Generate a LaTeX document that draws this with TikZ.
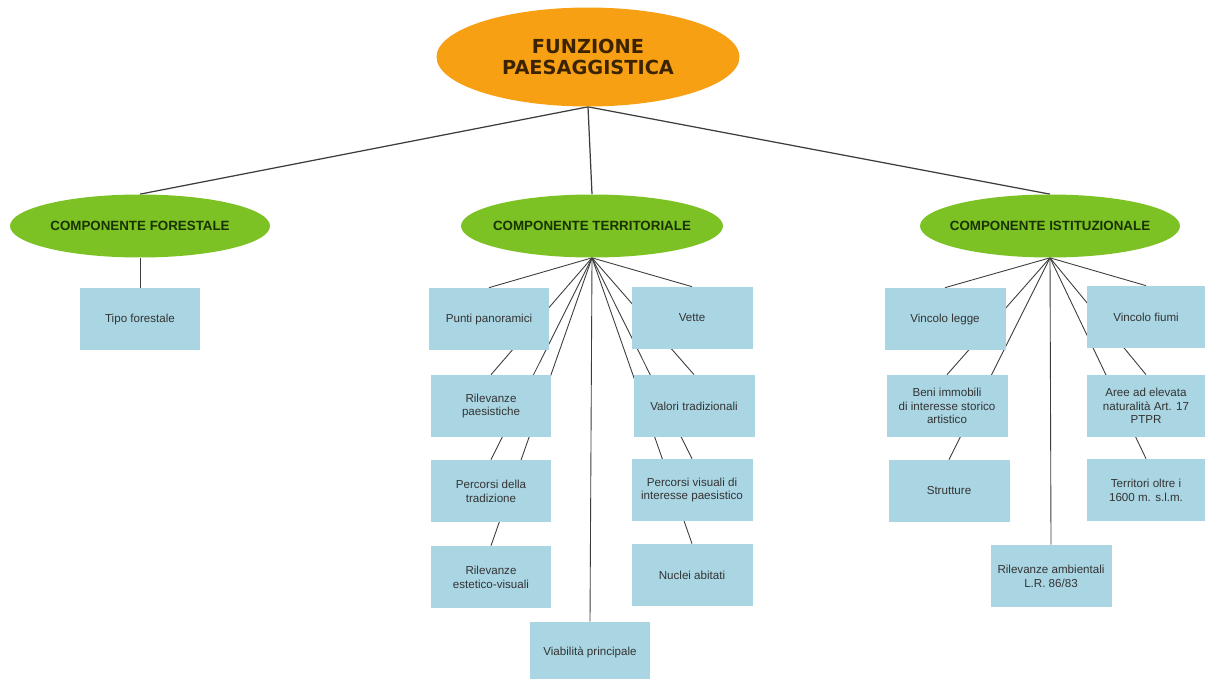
\documentclass[tikz,border=0pt]{standalone}
\usepackage{fontspec}
\setmainfont{Liberation Sans}
\newfontfamily\titlefont{DejaVu Sans}
\usetikzlibrary{shapes.geometric}
\definecolor{boxblue}{RGB}{170,214,228}
\definecolor{leafgreen}{RGB}{124,194,36}
\definecolor{titleorange}{RGB}{247,160,20}
\definecolor{linegray}{RGB}{60,60,60}
\definecolor{compText}{RGB}{25,50,0}
\definecolor{titleText}{RGB}{60,35,0}
\pgfdeclarelayer{back}
\pgfdeclarelayer{bg}
\pgfsetlayers{back,bg,main}
\newcommand{\ztext}[1]{\makebox[0pt][c]{#1}}
\tikzset{
  leafbox/.style={rectangle, fill=boxblue, minimum width=2.42cm, minimum height=1.24cm, inner sep=1pt, align=center, font=\fontsize{6.6}{7.8}\selectfont, text=black!80},
  compell/.style={ellipse, fill=leafgreen, minimum width=5.2cm, minimum height=1.26cm, inner sep=0pt, font=\bfseries\fontsize{7.6}{9}\selectfont, text=compText},
  titleell/.style={ellipse, fill=titleorange, minimum width=6.06cm, minimum height=1.98cm, inner sep=0pt, align=center, font=\titlefont\bfseries\fontsize{11}{12}\selectfont, text=titleText},
  link/.style={draw=linegray, line width=0.5pt},
  toplink/.style={draw=linegray, line width=0.7pt}
}
\begin{document}
\begin{tikzpicture}[x=0.02cm,y=-0.02cm]
\useasboundingbox (0,0) rectangle (1206,679);
\begin{pgfonlayer}{back}
\fill[white] (0,0) rectangle (1206,679);
\end{pgfonlayer}
% title
\node[titleell] (title) at (588,57) {FUNZIONE\\PAESAGGISTICA};
% components
\node[compell] (forest) at (140,226) {\ztext{COMPONENTE FORESTALE}};
\node[compell, minimum width=5.24cm] (terr) at (592,226) {\ztext{COMPONENTE TERRITORIALE}};
\node[compell] (ist) at (1050,226) {\ztext{COMPONENTE ISTITUZIONALE}};
% forestale
\node[leafbox] (tipo) at (140,319) {Tipo forestale};
% territoriale
\node[leafbox] (punti) at (489,319) {Punti panoramici};
\node[leafbox] (rilpaes) at (491,406) {Rilevanze\\paesistiche};
\node[leafbox] (percorsi) at (491,491) {Percorsi della\\tradizione};
\node[leafbox] (rilest) at (491,577) {Rilevanze\\estetico-visuali};
\node[leafbox, minimum height=1.2cm] (viab) at (590,652) {Viabilità principale};
\node[leafbox] (vette) at (692,318) {Vette};
\node[leafbox] (valori) at (694,406) {Valori tradizionali};
\node[leafbox] (percvis) at (692,490) {Percorsi visuali di\\interesse paesistico};
\node[leafbox] (nuclei) at (692,575) {Nuclei abitati};
% istituzionale
\node[leafbox] (vlegge) at (945,319) {Vincolo legge};
\node[leafbox, minimum width=2.36cm] (vfiumi) at (1146,317) {Vincolo fiumi};
\node[leafbox] (beni) at (947,406) {Beni immobili\\di interesse storico\\artistico};
\node[leafbox, minimum width=2.36cm] (aree) at (1146,406) {Aree ad elevata\\naturalità Art. 17\\PTPR};
\node[leafbox] (strutt) at (949,491) {Strutture};
\node[leafbox, minimum width=2.36cm] (territ) at (1146,490) {Territori oltre i\\1600 m. s.l.m.};
\node[leafbox] (rilamb) at (1051,576) {Rilevanze ambientali\\L.R. 86/83};
% connectors
\begin{pgfonlayer}{bg}
\draw[toplink] (title.south) -- (forest.north);
\draw[toplink] (title.south) -- (terr.north);
\draw[toplink] (title.south) -- (ist.north);
\draw[link] (forest.south) -- (tipo.north);
\foreach \b in {punti,rilpaes,percorsi,rilest,viab,vette,valori,percvis,nuclei}
  \draw[link] (terr.south) -- (\b.north);
\foreach \b in {vlegge,beni,strutt,rilamb,vfiumi,aree,territ}
  \draw[link] (ist.south) -- (\b.north);
\end{pgfonlayer}
\end{tikzpicture}
\end{document}
